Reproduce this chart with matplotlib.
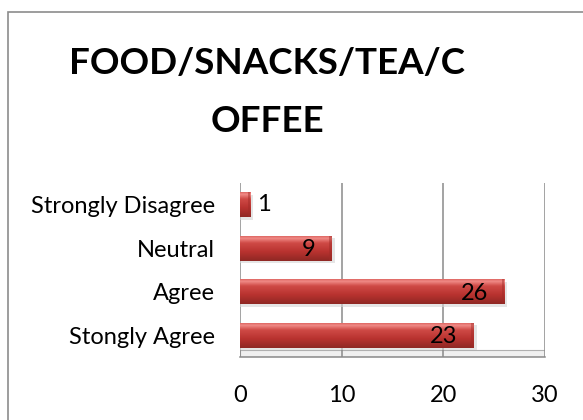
import matplotlib
matplotlib.use("Agg")
import matplotlib.pyplot as plt
import numpy as np
from matplotlib.patches import Rectangle
from matplotlib.colors import LinearSegmentedColormap

categories = ["Stongly Agree", "Agree", "Neutral", "Strongly Disagree"]
values = [23, 26, 9, 1]
xticks = [0, 10, 20, 30]
title_lines = ["FOOD/SNACKS/TEA/C", "OFFEE"]

plt.rcParams['font.family'] = ['Lato', 'DejaVu Sans']

W, H = 583, 420
fig = plt.figure(figsize=(W / 100, H / 100), dpi=100)
fig.patch.set_facecolor("white")

# outer chart border
fig.add_artist(Rectangle((8 / W, -0.1), 1.2, (H - 12) / H + 0.1, transform=fig.transFigure,
                         fill=False, edgecolor="#8c8c8c", linewidth=1.2))

ax = fig.add_axes([240 / W, 63 / H, 305 / W, 174 / H])
ax.set_xlim(0, 30)
ax.set_ylim(-0.5, len(categories) - 0.5)

# floor
ax.add_patch(Rectangle((0, 0), 1, 0.04, transform=ax.transAxes, facecolor="#f0f0f0",
                       edgecolor="#b0b0b0", linewidth=0.8, zorder=1))

for x in xticks:
    ax.axvline(x, color="#8a8a8a", linewidth=1.1, zorder=1.5)

ypos = np.arange(len(categories))
bh = 0.58
# shadow
ax.barh(ypos - 0.06, [v + 0.3 for v in values], height=bh, color="#d5d5d5", alpha=0.6, zorder=2)
bars = ax.barh(ypos, values, height=bh, color="#c0403c", zorder=3)

grad = np.linspace(0, 1, 60).reshape(-1, 1)
cmap = LinearSegmentedColormap.from_list(
    "r", [(0.0, "#8f2824"), (0.35, "#b8322f"), (0.7, "#cf4a46"), (0.88, "#f08a86"), (1.0, "#d75a56")])
for b in bars:
    x0, y0, w, h = b.get_x(), b.get_y(), b.get_width(), b.get_height()
    im = ax.imshow(grad, extent=[x0, x0 + w, y0, y0 + h], aspect="auto", cmap=cmap,
                   vmin=0, vmax=1, zorder=3.5, origin="lower", interpolation="bilinear")
    im.set_clip_path(b)
    ax.add_patch(Rectangle((x0 + w - 0.25, y0), 0.25, h, facecolor="#a02c28", alpha=0.45,
                           edgecolor="none", zorder=3.6))

ax.set_aspect("auto")
ax.set_xlim(0, 30)
ax.set_ylim(-0.5, len(categories) - 0.5)

for y, v in zip(ypos, values):
    if v < 3:
        ax.text(v + 0.7, y, str(v), va="center", ha="left", fontsize=17, color="black", zorder=5)
    else:
        ax.text(v - 1.6, y - 0.04, str(v), va="center", ha="right", fontsize=17, color="black", zorder=5)

ax.set_yticks(ypos)
ax.set_yticklabels(categories, fontsize=17)
ax.set_xticks(xticks)
ax.set_xticklabels([str(t) for t in xticks], fontsize=17)
ax.tick_params(axis="y", length=0, pad=18)
ax.tick_params(axis="x", length=0, pad=20)
for s in ["top", "left", "right"]:
    ax.spines[s].set_visible(False)
ax.spines["bottom"].set_color("#8a8a8a")
ax.spines["bottom"].set_linewidth(1.1)

fig.text(267 / W, 1 - 63 / H, title_lines[0], ha="center", va="center", fontsize=26.5,
         fontweight="bold")
fig.text(267 / W, 1 - 121 / H, title_lines[1], ha="center", va="center", fontsize=26.5,
         fontweight="bold")

fig.savefig("out.png", dpi=100)
